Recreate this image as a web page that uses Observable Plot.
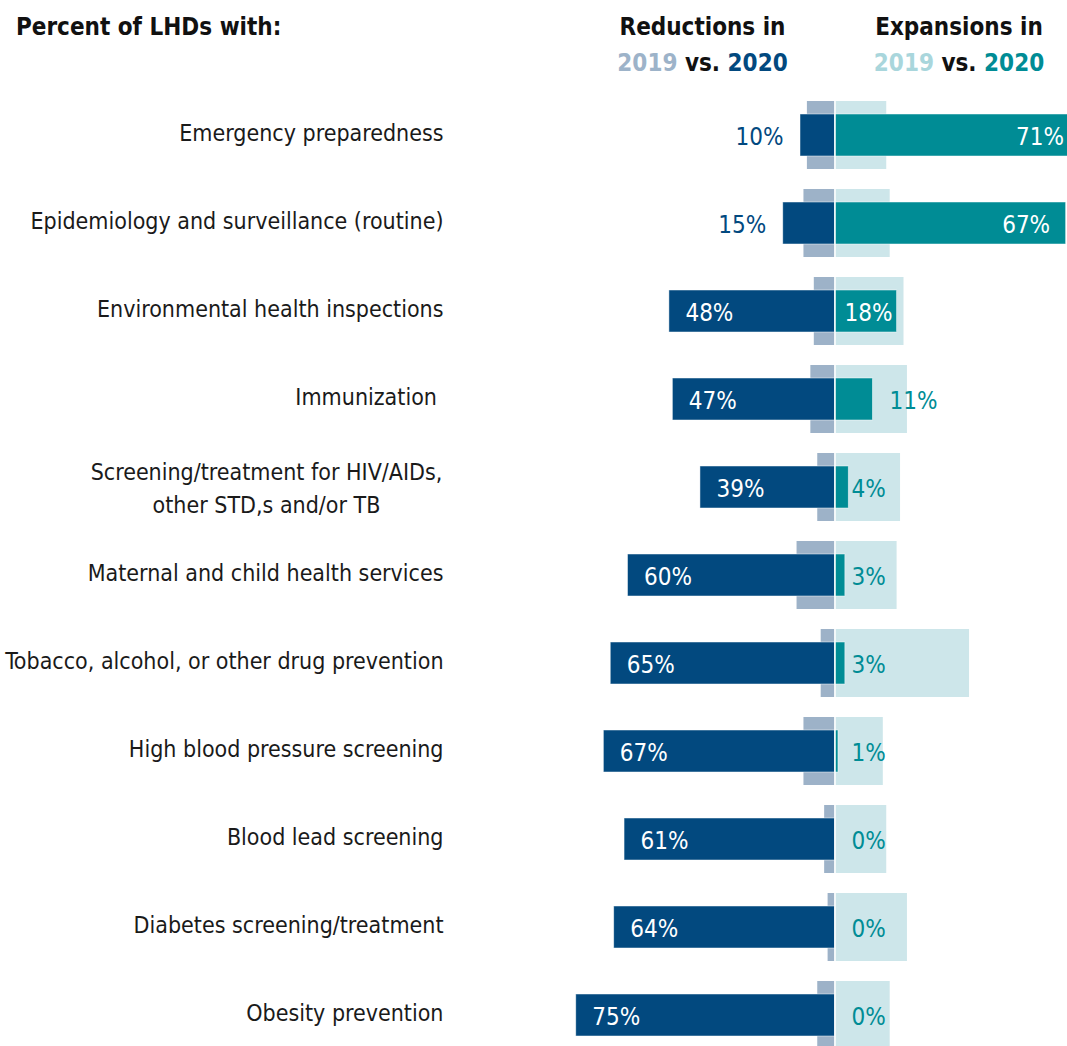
<!DOCTYPE html>
<html>
<head>
<meta charset="utf-8">
<script src="https://cdn.jsdelivr.net/npm/d3@7"></script>
<script src="https://cdn.jsdelivr.net/npm/@observablehq/plot@0.6"></script>
<style>
  html, body { margin: 0; padding: 0; overflow: hidden; background: #fff; }
  body { width: 1067px; height: 1046px; font-family: 'Liberation Sans Narrow', 'Arial Narrow', 'DejaVu Sans Condensed', sans-serif; }
  #head { position: relative; height: 88px; }
  .h { position: absolute; font-weight: bold; font-size: 24px; line-height: 36px; color: #111; white-space: nowrap; }
  #chart svg { display: block; }
</style>
</head>
<body>
<div id="head">
  <div class="h" style="left:16px; top:9px;">Percent of LHDs with:</div>
  <div class="h" style="left:600px; top:9px; width:205px; text-align:center;">Reductions in<br><span style="color:#9db3c9">2019</span> vs. <span style="color:#02497f">2020</span></div>
  <div class="h" style="left:857px; top:9px; width:204px; text-align:center;">Expansions in<br><span style="color:#a9d6dc">2019</span> vs. <span style="color:#008c95">2020</span></div>
</div>
<div id="chart"></div>
<script>
const categories = [
  "Emergency preparedness",
  "Epidemiology and surveillance (routine)",
  "Environmental health inspections",
  "Immunization ",
  "Screening/treatment for HIV/AIDs,\nother STD,s and/or TB",
  "Maternal and child health services",
  "Tobacco, alcohol, or other drug prevention",
  "High blood pressure screening",
  "Blood lead screening",
  "Diabetes screening/treatment",
  "Obesity prevention"
];
const reduction2019 = [8, 9, 6, 7, 5, 11, 4, 9, 3, 2, 5];
const reduction2020 = [10, 15, 48, 47, 39, 60, 65, 67, 61, 64, 75];
const expansion2019 = [15, 16, 20, 21, 19, 18, 39, 14, 15, 21, 16];
const expansion2020 = [71, 67, 18, 11, 4, 3, 3, 1, 0, 0, 0];

const navy = "#02497f", navyLight = "#9db2c8", teal = "#008c95", tealLight = "#cde6ea";
const fontFamily = "'Liberation Sans Narrow', 'Arial Narrow', 'DejaVu Sans Condensed', sans-serif";

const rows = categories.map((c, i) => ({
  category: c,
  r19: reduction2019[i], r20: reduction2020[i],
  e19: expansion2019[i], e20: expansion2020[i]
}));
const pct = v => v + "%";
const vfs = 24;
const singleLine = categories.filter(c => !c.includes("\n"));
const multiLine = categories.filter(c => c.includes("\n"));

const chart = Plot.plot({
  width: 1067,
  height: 958,
  marginLeft: 443,
  marginRight: 0,
  marginTop: 0,
  marginBottom: 0,
  style: { fontFamily, background: "white" },
  x: { domain: [-100, 100], range: [489.5, 1179.5], axis: null },
  y: { domain: categories, range: [-9.35, 983], padding: 0.23, label: null, axis: null },
  marks: [
    Plot.barX(rows, { y: "category", x1: d => 0, x2: d => -d.r19, fill: navyLight }),
    Plot.barX(rows, { y: "category", x1: d => 0, x2: d => d.e19, fill: tealLight }),
    Plot.barX(rows, { y: "category", x1: d => 0, x2: d => -d.r20, fill: navy, insetTop: 13, insetBottom: 13, stroke: "white", strokeWidth: 0.8, strokeOpacity: 0.6 }),
    Plot.barX(rows, { y: "category", x1: d => 0, x2: d => d.e20, fill: teal, insetTop: 13, insetBottom: 13, stroke: "white", strokeWidth: 0.8, strokeOpacity: 0.6 }),
    Plot.ruleX([0], { stroke: "white", strokeWidth: 1.5 }),
    // reduction labels
    Plot.text(rows.filter(d => d.r20 >= 20), { y: "category", x: d => -d.r20, text: d => pct(d.r20), textAnchor: "start", dx: 16, dy: 2, fill: "white", fontSize: vfs }),
    Plot.text(rows.filter(d => d.r20 < 20), { y: "category", x: d => -d.r20, text: d => pct(d.r20), textAnchor: "end", dx: -17, dy: 2, fill: navy, fontSize: vfs }),
    // expansion labels
    Plot.text(rows.filter(d => d.e20 >= 30), { y: "category", x: "e20", text: d => pct(d.e20), textAnchor: "end", dx: -16, dy: 2, fill: "white", fontSize: vfs }),
    Plot.text(rows.filter(d => d.e20 >= 15 && d.e20 < 30), { y: "category", x: d => 0, text: d => pct(d.e20), textAnchor: "start", dx: 9.5, dy: 2, fill: "white", fontSize: vfs }),
    Plot.text(rows.filter(d => d.e20 >= 5 && d.e20 < 15), { y: "category", x: "e20", text: d => pct(d.e20), textAnchor: "start", dx: 16.6, dy: 2, fill: teal, fontSize: vfs }),
    Plot.text(rows.filter(d => d.e20 < 5), { y: "category", x: d => 0, text: d => pct(d.e20), textAnchor: "start", dx: 16.5, dy: 2, fill: teal, fontSize: vfs }),
    // category labels
    Plot.axisY(singleLine, { tickSize: 0, tickPadding: 0, fontSize: 23, dy: -2, fill: "#1a1a1a", label: null }),
    Plot.axisY(multiLine, { tickSize: 0, tickPadding: 0, fontSize: 23, lineHeight: 1.45, dy: -2, textAnchor: "middle", dx: -177, fill: "#1a1a1a", label: null })
  ]
});
document.getElementById("chart").appendChild(chart);
</script>
</body>
</html>
